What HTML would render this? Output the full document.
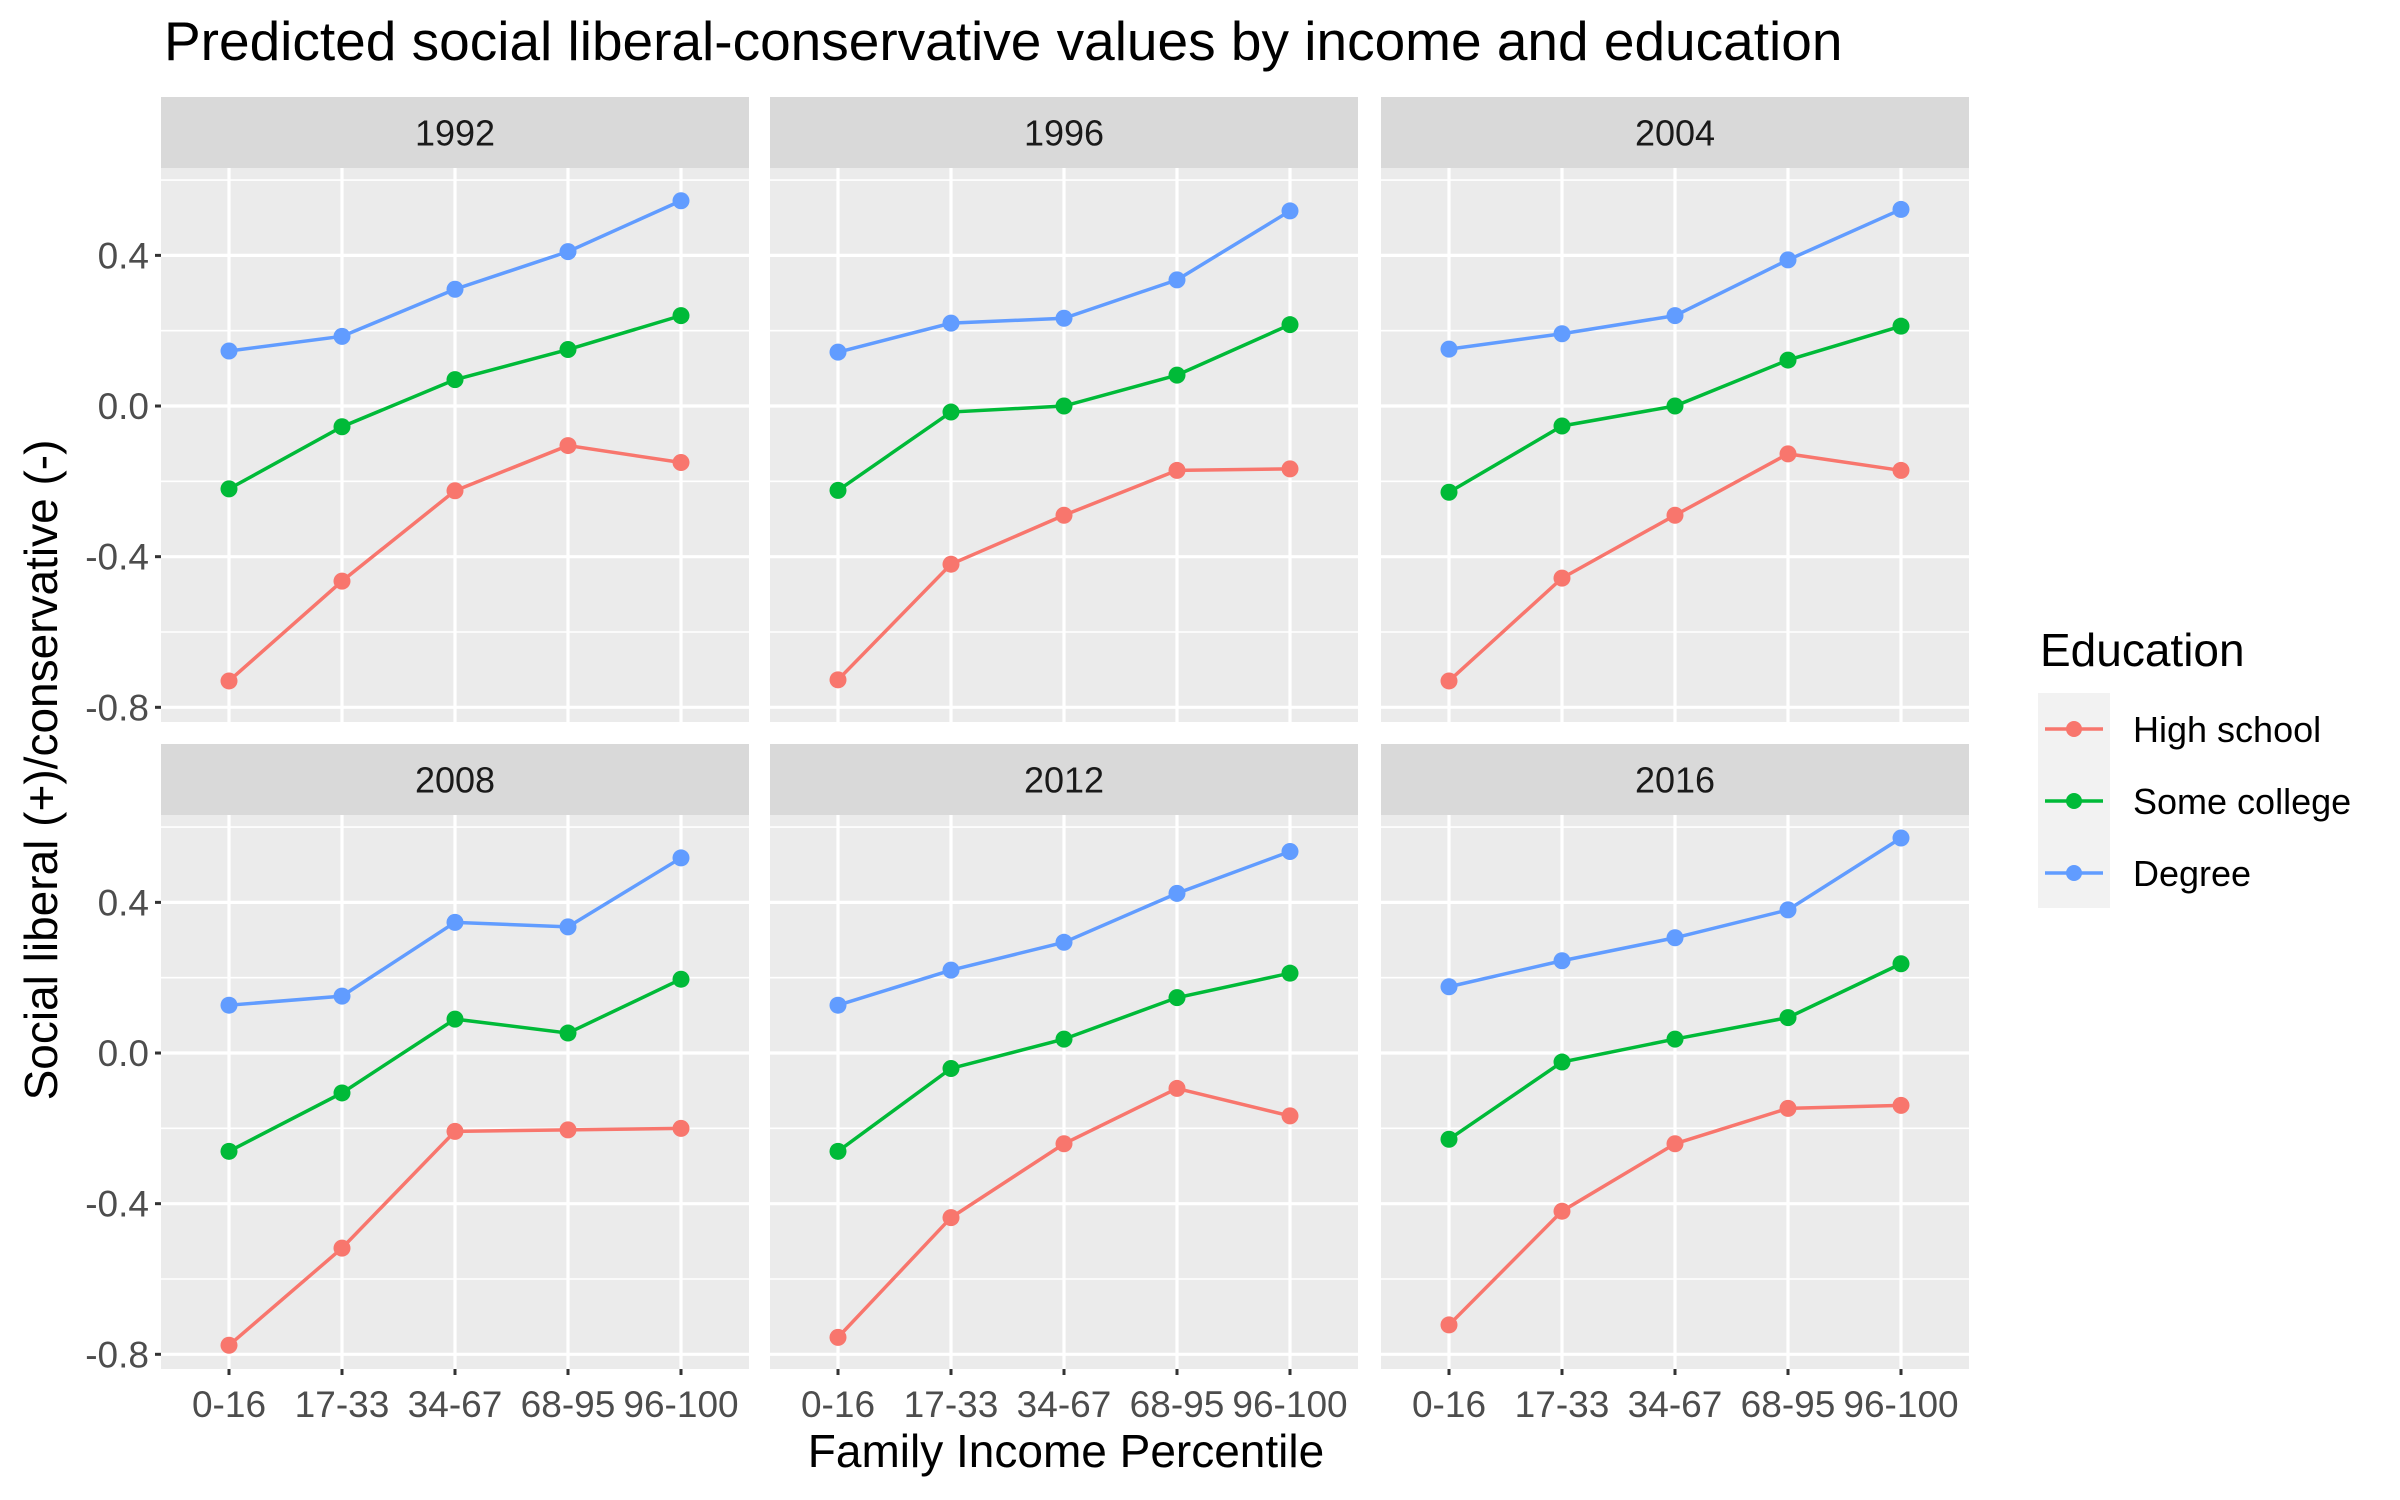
<!DOCTYPE html>
<html><head><meta charset="utf-8">
<style>
html,body{margin:0;padding:0;background:#fff;}
svg{display:block;font-family:"Liberation Sans",Arial,sans-serif;}
</style></head>
<body>
<svg id="chart" width="2400" height="1500" viewBox="0 0 2400 1500" xmlns="http://www.w3.org/2000/svg">
<text x="164" y="60" font-size="55" fill="#000">Predicted social liberal-conservative values by income and education</text>
<text transform="translate(57,770) rotate(-90)" text-anchor="middle" font-size="46" fill="#000">Social liberal (+)/conservative (-)</text>
<text x="1066" y="1467" text-anchor="middle" font-size="46" fill="#000">Family Income Percentile</text>
<g id="panels"></g>
<g>
<text x="2040" y="666" font-size="46" fill="#000">Education</text>
<rect x="2038" y="693" width="72" height="215" fill="#f2f2f2"/>
<g><line x1="2045" x2="2103" y1="729" y2="729" stroke="#F8766D" stroke-width="3.5"/><circle cx="2074" cy="729" r="8" fill="#F8766D"/><text x="2133" y="742" font-size="36" fill="#000">High school</text></g>
<g><line x1="2045" x2="2103" y1="801" y2="801" stroke="#00BA38" stroke-width="3.5"/><circle cx="2074" cy="801" r="8" fill="#00BA38"/><text x="2133" y="814" font-size="36" fill="#000">Some college</text></g>
<g><line x1="2045" x2="2103" y1="873" y2="873" stroke="#619CFF" stroke-width="3.5"/><circle cx="2074" cy="873" r="8" fill="#619CFF"/><text x="2133" y="886" font-size="36" fill="#000">Degree</text></g>
</g>
</svg>
<script>
const years = ["1992","1996","2004","2008","2012","2016"];
const categories = ["0-16","17-33","34-67","68-95","96-100"];
const seriesNames = ["High school","Some college","Degree"];
const yTicks = [0.4, 0.0, -0.4, -0.8];
const yTickLabels = ["0.4","0.0","-0.4","-0.8"];
const highSchool = [
  [-0.73,-0.465,-0.225,-0.105,-0.15],
  [-0.727,-0.42,-0.29,-0.171,-0.167],
  [-0.73,-0.457,-0.29,-0.127,-0.171],
  [-0.776,-0.518,-0.208,-0.204,-0.2],
  [-0.755,-0.437,-0.241,-0.094,-0.167],
  [-0.722,-0.42,-0.241,-0.147,-0.139]
];
const someCollege = [
  [-0.22,-0.055,0.07,0.15,0.24],
  [-0.224,-0.016,0.0,0.082,0.216],
  [-0.229,-0.053,0.0,0.122,0.212],
  [-0.261,-0.106,0.09,0.053,0.196],
  [-0.261,-0.041,0.037,0.147,0.212],
  [-0.229,-0.024,0.037,0.094,0.237]
];
const degree = [
  [0.146,0.185,0.31,0.41,0.545],
  [0.143,0.22,0.233,0.335,0.518],
  [0.151,0.192,0.24,0.388,0.522],
  [0.127,0.151,0.347,0.335,0.518],
  [0.127,0.22,0.294,0.424,0.535],
  [0.176,0.245,0.306,0.38,0.571]
];
const colors = ["#F8766D","#00BA38","#619CFF"];
const allSeries = [highSchool, someCollege, degree];

const NS = "http://www.w3.org/2000/svg";
const root = document.getElementById("panels");
function mk(tag, attrs, parent){
  const e = document.createElementNS(NS, tag);
  for (const k in attrs) e.setAttribute(k, attrs[k]);
  parent.appendChild(e); return e;
}
const panelX = [161, 770, 1381];
const panelW = 588;
const rowTop = [97, 744];
const stripH = 71;
const plotH = 554;
const yMin = -0.839, yMax = 0.632;

years.forEach((yr, p) => {
  const col = p % 3, row = Math.floor(p / 3);
  const x0 = panelX[col], sy = rowTop[row], py = sy + stripH;
  const g = mk("g", {}, root);
  
  
  const xs = i => x0 + 68 + i * 113;
  const ys = v => py + (yMax - v) / (yMax - yMin) * plotH;
  const strip = mk("rect", {x:x0, y:sy, width:panelW, height:stripH, fill:"#d9d9d9"}, g);
  
  
  const st = mk("text", {x:x0 + panelW/2, y:sy + stripH/2 + 13, "text-anchor":"middle", "font-size":"36", fill:"#1a1a1a"}, g);
  st.textContent = yr;
  
  
  const bg = mk("rect", {x:x0, y:py, width:panelW, height:plotH, fill:"#ebebeb"}, g);
  
  
  [0.6,0.2,-0.2,-0.6].forEach(v => {
    mk("line", {x1:x0, x2:x0+panelW, y1:ys(v), y2:ys(v), stroke:"#fff", "stroke-width":1.6}, g);
  });
  yTicks.forEach((v, i) => {
    mk("line", {x1:x0, x2:x0+panelW, y1:ys(v), y2:ys(v), stroke:"#fff", "stroke-width":3.2}, g);
    if (col === 0) {
      mk("line", {x1:x0-6, x2:x0, y1:ys(v), y2:ys(v), stroke:"#333", "stroke-width":3}, g);
      const t = mk("text", {x:x0-12, y:ys(v)+13, "text-anchor":"end", "font-size":"37", fill:"#4d4d4d"}, g);
      t.textContent = yTickLabels[i];
      
      
    }
  });
  categories.forEach((c, i) => {
    mk("line", {x1:xs(i), x2:xs(i), y1:py, y2:py+plotH, stroke:"#fff", "stroke-width":3.2}, g);
    if (row === 1) {
      mk("line", {x1:xs(i), x2:xs(i), y1:py+plotH, y2:py+plotH+6, stroke:"#333", "stroke-width":3}, g);
      const t = mk("text", {x:xs(i), y:py+plotH+48, "text-anchor":"middle", "font-size":"37", fill:"#4d4d4d"}, g);
      t.textContent = c;
      
      
    }
  });
  allSeries.forEach((s, k) => {
    const vals = s[p];
    const pts = vals.map((v, i) => xs(i) + "," + ys(v)).join(" ");
    const pl = mk("polyline", {points:pts, fill:"none", stroke:colors[k], "stroke-width":3.5}, g);
    
    
    vals.forEach((v, i) => {
      const c = mk("circle", {cx:xs(i), cy:ys(v), r:8.5, fill:colors[k]}, g);
      
      
    });
  });
});
</script>
</body></html>
